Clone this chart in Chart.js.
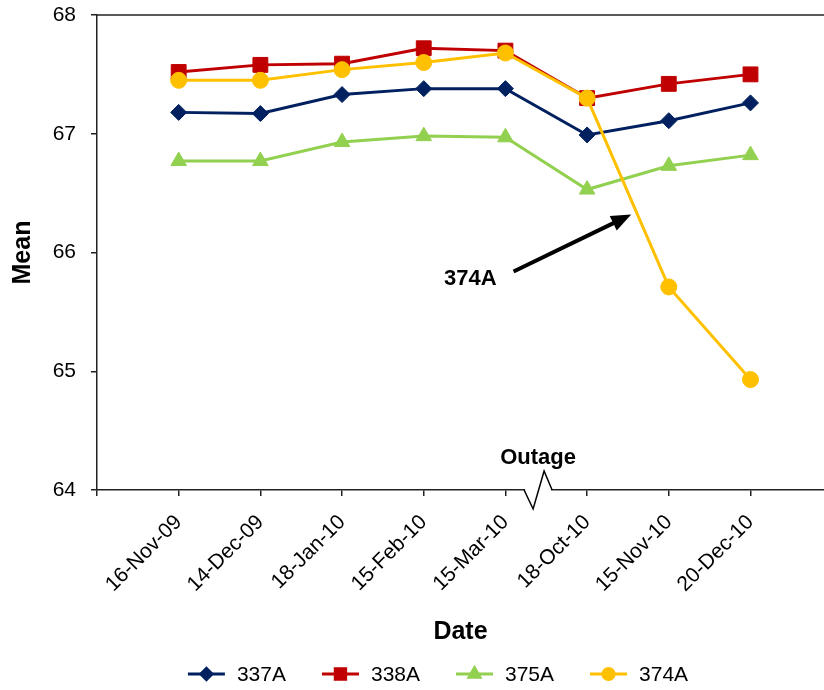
<!DOCTYPE html>
<html>
<head>
<meta charset="utf-8">
<script src="https://cdn.jsdelivr.net/npm/chart.js@4.4.1/dist/chart.umd.min.js"></script>
<style>
  body { margin: 0; background: #fff; }
</style>
</head>
<body>
<canvas id="graph_mean" width="824" height="690"></canvas>
<script>
// Dados do gráfico

const datas = [
  "16-Nov-09",
  "14-Dec-09",
  "18-Jan-10",
  "15-Feb-10",
  "15-Mar-10",
  "18-Oct-10",
  "15-Nov-10",
  "20-Dec-10",
];
const mean337A = [67.18, 67.17, 67.33, 67.38, 67.38, 66.99, 67.11, 67.26];
const mean338A = [67.52, 67.58, 67.59, 67.72, 67.70, 67.30, 67.42, 67.50];
const mean375A = [66.77, 66.77, 66.93, 66.98, 66.97, 66.53, 66.73, 66.82];
const mean374A = [67.45, 67.45, 67.54, 67.60, 67.68, 67.30, 65.71, 64.93];
const ticksY = [64, 65, 66, 67, 68];

const FONTE = "'Liberation Sans', Arial, sans-serif";

function pontos(valores) {
  return valores.map((v, i) => ({ x: i + 1, y: v }));
}

// Anotações: seta "374A", texto "Outage" e quebra do eixo

const anotacoes = {
  id: "anotacoes",
  afterDraw(chart) {
    const ctx = chart.ctx;
    const sx = chart.scales.x;
    const sy = chart.scales.y;
    const area = chart.chartArea;
    ctx.save();

    // borda superior
    ctx.strokeStyle = "#222";
    ctx.lineWidth = 1.5;
    ctx.beginPath();
    ctx.moveTo(area.left, area.top);
    ctx.lineTo(chart.width, area.top);
    ctx.stroke();

    // quebra do eixo
    const cx = sx.getPixelForValue(5.4);
    const cy = area.bottom;
    ctx.fillStyle = "#fff";
    ctx.fillRect(cx - 13, cy - 3, 26, 6);
    ctx.strokeStyle = "#000";
    ctx.lineWidth = 1.5;
    ctx.beginPath();
    ctx.moveTo(cx - 14, cy);
    ctx.lineTo(cx - 5, cy + 19);
    ctx.lineTo(cx + 6, cy - 19);
    ctx.lineTo(cx + 14, cy);
    ctx.stroke();

    ctx.fillStyle = "#000";
    ctx.font = "bold 22px " + FONTE;
    ctx.textAlign = "center";
    ctx.textBaseline = "middle";
    ctx.fillText("Outage", cx, cy - 32);

    // seta 374A
    const x0 = sx.getPixelForValue(5.1);
    const y0 = sy.getPixelForValue(65.84);
    const x1 = sx.getPixelForValue(6.54);
    const y1 = sy.getPixelForValue(66.32);
    const ang = Math.atan2(y1 - y0, x1 - x0);
    ctx.strokeStyle = "#000";
    ctx.lineWidth = 4;
    ctx.beginPath();
    ctx.moveTo(x0, y0);
    ctx.lineTo(x1 - 14 * Math.cos(ang), y1 - 14 * Math.sin(ang));
    ctx.stroke();
    ctx.beginPath();
    ctx.moveTo(x1, y1);
    ctx.lineTo(x1 - 20 * Math.cos(ang) + 8 * Math.sin(ang), y1 - 20 * Math.sin(ang) - 8 * Math.cos(ang));
    ctx.lineTo(x1 - 20 * Math.cos(ang) - 8 * Math.sin(ang), y1 - 20 * Math.sin(ang) + 8 * Math.cos(ang));
    ctx.closePath();
    ctx.fill();

    ctx.fillText("374A", sx.getPixelForValue(4.57), sy.getPixelForValue(65.78));

    ctx.restore();
  },
};

// Legenda desenhada à mão (linha + marcador)

const legenda = {
  id: "legenda",
  afterDraw(chart) {
    const ctx = chart.ctx;
    const itens = chart.data.datasets;
    const y = 674;
    ctx.save();
    ctx.font = "21px " + FONTE;
    ctx.textBaseline = "middle";
    ctx.textAlign = "left";
    let larguras = itens.map((d) => 37 + 12 + ctx.measureText(d.label).width);
    let total = larguras.reduce((a, b) => a + b, 0) + 36 * (itens.length - 1);
    let x = 438 - total / 2;
    itens.forEach((d, i) => {
      ctx.strokeStyle = d.borderColor;
      ctx.fillStyle = d.backgroundColor;
      ctx.lineWidth = 3;
      ctx.beginPath();
      ctx.moveTo(x, y);
      ctx.lineTo(x + 37, y);
      ctx.stroke();
      Chart.helpers.drawPoint(
        ctx,
        { pointStyle: d.pointStyle, radius: d.pointRadius * 0.7, rotation: 0, borderWidth: 1 },
        x + 18.5,
        y
      );
      ctx.fillStyle = "#000";
      ctx.fillText(d.label, x + 49, y + 1);
      x += larguras[i] + 36;
    });
    ctx.restore();
  },
};

const graficoMedia = document.getElementById("graph_mean");

new Chart(graficoMedia, {
  type: "line",
  data: {
    datasets: [
      {
        label: "337A",
        data: pontos(mean337A),
        borderColor: "#002060",
        backgroundColor: "#002060",
        pointStyle: "rectRot",
        pointRadius: 8,
        order: 4,
      },
      {
        label: "338A",
        data: pontos(mean338A),
        borderColor: "#C00000",
        backgroundColor: "#C00000",
        pointStyle: "rect",
        pointRadius: 10.5,
        order: 3,
      },
      {
        label: "375A",
        data: pontos(mean375A),
        borderColor: "#92D050",
        backgroundColor: "#92D050",
        pointStyle: "triangle",
        pointRadius: 9,
        order: 2,
      },
      {
        label: "374A",
        data: pontos(mean374A),
        borderColor: "#FFC000",
        backgroundColor: "#FFC000",
        pointStyle: "circle",
        pointRadius: 8,
        order: 1,
      },
    ],
  },
  options: {
    responsive: false,
    animation: false,
    layout: { autoPadding: false, padding: { top: 15, right: 0, bottom: 40, left: 0 } },
    elements: {
      line: { borderWidth: 3, tension: 0 },
      point: { borderWidth: 1, hoverRadius: 8 },
    },
    scales: {
      x: {
        type: "linear",
        min: 0,
        max: 8.9,
        afterBuildTicks: (scale) => {
          scale.ticks = [0, 1, 2, 3, 4, 5, 6, 7, 8].map((v) => ({ value: v }));
        },
        afterFit: (scale) => {
          scale.height = 160;
          scale.paddingLeft = 0;
          scale.paddingRight = 0;
        },
        ticks: {
          autoSkip: false,
          minRotation: 45,
          maxRotation: 45,
          padding: 14,
          color: "#000",
          font: { family: FONTE, size: 21 },
          callback: (v) => datas[v - 1] || "",
        },
        grid: { drawOnChartArea: false, tickLength: 6, color: "#222", lineWidth: 1.5 },
        border: { color: "#222", width: 1.5 },
        title: {
          display: true,
          text: "Date",
          color: "#000",
          font: { family: FONTE, size: 25, weight: "bold" },
          padding: { top: 0, bottom: 3 },
        },
      },
      y: {
        min: 64,
        max: 68,
        afterBuildTicks: (scale) => {
          scale.ticks = ticksY.map((v) => ({ value: v }));
        },
        afterFit: (scale) => {
          scale.width = 97;
          scale.paddingTop = 0;
          scale.paddingBottom = 0;
        },
        ticks: {
          padding: 15,
          color: "#000",
          font: { family: FONTE, size: 21 },
        },
        grid: { drawOnChartArea: false, tickLength: 6, color: "#222", lineWidth: 1.5 },
        border: { color: "#222", width: 1.5 },
        title: {
          display: true,
          text: "Mean",
          color: "#000",
          font: { family: FONTE, size: 25, weight: "bold" },
          padding: { top: 8, bottom: 0 },
        },
      },
    },
    plugins: {
      legend: { display: false },
      tooltip: { enabled: false },
    },
  },
  plugins: [anotacoes, legenda],
});
</script>
</body>
</html>
